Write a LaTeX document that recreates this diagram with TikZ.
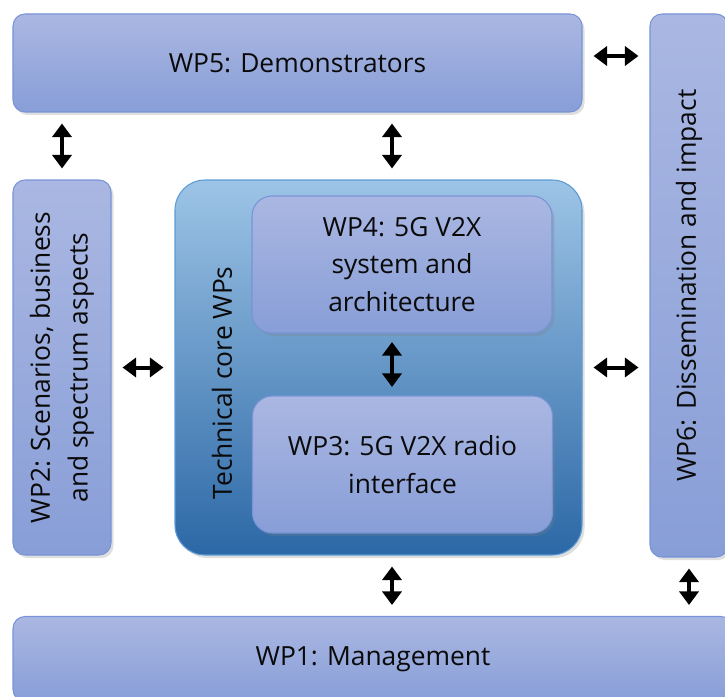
\documentclass[tikz,border=0pt]{standalone}
\usepackage{fontspec}
\setmainfont{Open Sans}
\usetikzlibrary{arrows.meta,shadows}

\definecolor{wptop}{RGB}{170,183,226}
\definecolor{wpbot}{RGB}{136,158,215}
\definecolor{wpline}{RGB}{120,148,214}
\definecolor{coretop}{RGB}{157,196,230}
\definecolor{coremid}{RGB}{91,155,213}
\definecolor{corebot}{RGB}{44,104,166}
\definecolor{wptext}{RGB}{10,10,10}

\newcommand{\wpfont}{\fontsize{15}{21.5}\selectfont}

\tikzset{
  wp/.style={draw=wpline, line width=0.6pt, rounded corners=0.24cm,
    top color=wptop, bottom color=wpbot, inner sep=0pt, align=center,
    font=\wpfont, text=wptext,
    drop shadow={shadow xshift=0.05cm, shadow yshift=-0.06cm, opacity=0.25}},
  wpin/.style={wp, rounded corners=0.4cm},
  core/.style={draw=coremid, line width=0.6pt, rounded corners=0.6cm,
    top color=coretop, middle color=coremid, bottom color=corebot,
    drop shadow={shadow xshift=0.05cm, shadow yshift=-0.06cm, opacity=0.25}},
  dbl/.style={<->, >={Triangle[width=0.38cm,length=0.27cm]}, line width=0.08cm,
    shorten <=0.22cm, shorten >=0.22cm}
}

\begin{document}
\begin{tikzpicture}
\useasboundingbox (0,0) rectangle (14.5,-13.92);

\node[wp, minimum width=11.38cm, minimum height=1.96cm] (wp5) at (5.95,-1.26) {WP5: Demonstrators};
\node[wp, rotate=90, minimum width=10.86cm, minimum height=1.56cm] (wp6) at (13.78,-5.71) {WP6: Dissemination and impact};
\node[wp, rotate=90, minimum width=7.5cm, minimum height=1.96cm] (wp2) at (1.24,-7.35) {WP2: Scenarios, business\\and spectrum aspects};

\node[core, minimum width=8.14cm, minimum height=7.5cm] (core) at (7.57,-7.35) {};
\node[rotate=90, font=\wpfont, text=wptext] (corelbl) at (4.44,-7.66) {Technical core WPs};
\node[wpin, minimum width=6cm, minimum height=2.74cm] (wp4) at (8.04,-5.29) {WP4: 5G V2X\\system and\\architecture};
\node[wpin, minimum width=6cm, minimum height=2.74cm] (wp3) at (8.05,-9.29) {WP3: 5G V2X radio\\interface};

\node[wp, minimum width=14.4cm, minimum height=1.7cm] (wp1) at (7.46,-13.18) {WP1: Management};

\coordinate (mid) at (7.84,0);

\draw[dbl] ([yshift=0.14cm]wp5.east) -- ([yshift=0.14cm]wp5.east -| wp6.north);
\draw[dbl] (wp5.south -| wp2.east) -- (wp2.east);
\draw[dbl] (mid |- wp5.south) -- (mid |- core.north);
\draw[dbl] (wp2.south) -- (wp2.south -| core.west);
\draw[dbl] (core.east) -- (core.east -| wp6.north);
\draw[dbl, shorten <=0.17cm, shorten >=0.17cm] (mid |- wp4.south) -- (mid |- wp3.north);
\draw[dbl] (mid |- core.south) -- (mid |- wp1.north);
\draw[dbl] (wp6.west) -- (wp6.west |- wp1.north);
\end{tikzpicture}
\end{document}
